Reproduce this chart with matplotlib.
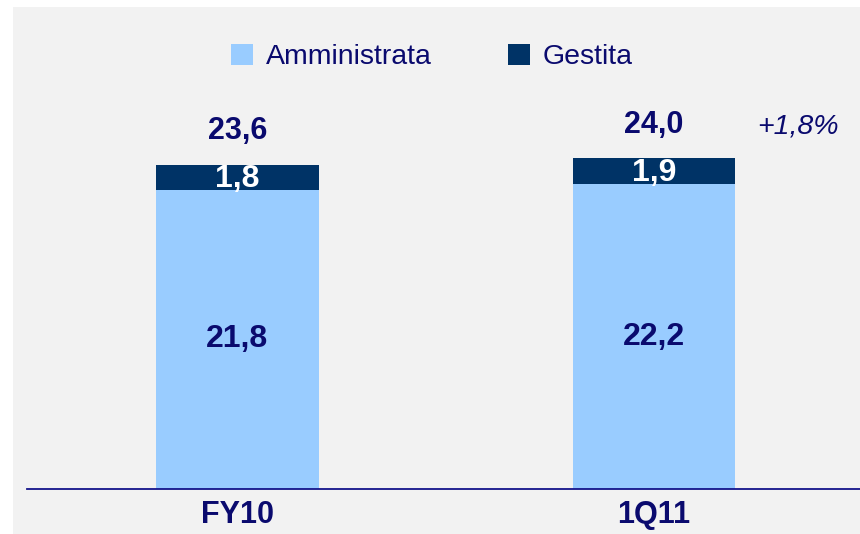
import matplotlib.pyplot as plt
from matplotlib.patches import Rectangle

plt.rcParams['font.family'] = ['Liberation Sans', 'DejaVu Sans']

categories = ['FY10', '1Q11']
amministrata = [21.8, 22.2]
gestita = [1.8, 1.9]
totali = [23.6, 24.0]
variazione = '+1,8%'

light = '#99ccff'
dark = '#003366'
navy = '#0a0a6e'


def fmt(v):
    return '{:.1f}'.format(v).replace('.', ',')


fig = plt.figure(figsize=(8.6, 5.34), dpi=100)
# grey panel behind everything
fig.patches.append(Rectangle((13 / 860, 0), 1, 527 / 534, transform=fig.transFigure,
                             facecolor='#f2f2f2', edgecolor='none', zorder=-10))
ax = fig.add_axes([27 / 860, 45 / 534, 833 / 860, 482 / 534])
ax.set_facecolor('none')

x = range(len(categories))
w = 0.39
b1 = ax.bar(x, amministrata, width=w, color=light, label='Amministrata')
b2 = ax.bar(x, gestita, width=w, bottom=amministrata, color=dark, label='Gestita')

for i in x:
    ax.text(i, amministrata[i] / 2, fmt(amministrata[i]), ha='center', va='center',
            fontsize=23, fontweight='bold', color=navy)
    ax.annotate(fmt(gestita[i]), (i, amministrata[i] + gestita[i] / 2), xytext=(0, -1.5),
                textcoords='offset points', ha='center', va='center',
                fontsize=23, fontweight='bold', color='white')
    ax.annotate(fmt(totali[i]), (i, totali[i]), xytext=(0, 24.5), textcoords='offset points',
                ha='center', va='center', fontsize=22, fontweight='bold', color=navy)

ax.annotate(variazione, (1.345, totali[1]), xytext=(0, 23.5), textcoords='offset points',
            ha='center', va='center', fontsize=20.5, fontstyle='italic', color=navy)

ax.set_xlim(-0.505, 1.495)
ax.set_ylim(0, 35.1)
ax.set_xticks(list(x))
ax.set_xticklabels(categories, fontsize=22, fontweight='bold', color=navy)
ax.tick_params(axis='x', length=0, pad=8)
ax.set_yticks([])
for s in ['top', 'right', 'left']:
    ax.spines[s].set_visible(False)
ax.spines['bottom'].set_color('#14148a')
ax.spines['bottom'].set_linewidth(1.3)

leg = fig.legend(handles=[b1, b2], loc='center', bbox_to_anchor=(432 / 860, 1 - 57 / 534),
                 ncol=2, frameon=False, fontsize=20.5, handlelength=0.75, handleheight=0.75,
                 handletextpad=0.45, columnspacing=2.7)
for t in leg.get_texts():
    t.set_color(navy)

fig.savefig('out.png', dpi=100)
